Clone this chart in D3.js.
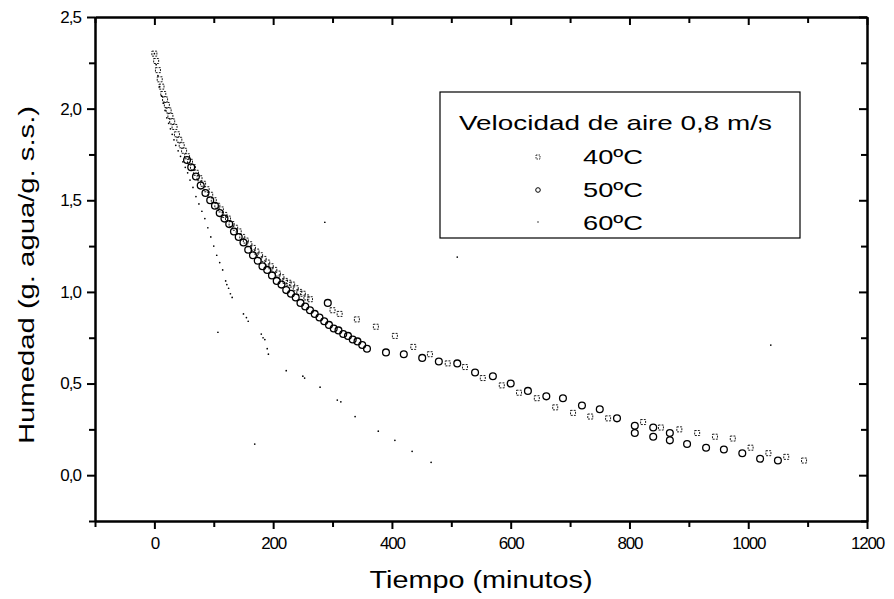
<!DOCTYPE html>
<html><head><meta charset="utf-8">
<script src="https://cdn.jsdelivr.net/npm/d3@7"></script>
<style>body{margin:0;background:#fff}svg{display:block}text{font-family:"Liberation Sans",Arial,sans-serif;fill:#000}</style>
</head><body><svg id="c" width="894" height="599"></svg>
<script>
// ---- data ----
const xTicks = [0,200,400,600,800,1000,1200];
const yTicks = [0.0,0.5,1.0,1.5,2.0,2.5];
const legendTitle = "Velocidad de aire 0,8 m/s";
const seriesNames = ["40ºC","50ºC","60ºC"];

const t40 = [0,3,6,9,12,15,18,21,24,27,30,34,38,42,46,50,55,60,65,70,76,82,88,94,100,106,112,118,124,130,136,142,148,154,160,166,172,178,184,190,196,202,208,214,220,226,232,238,244,250,256,262,300,312,341,373,405,436,464,494,523,553,585,614,644,675,705,734,764,823,853,884,914,944,974,1004,1034,1064,1094];
const v40 = [2.30,2.26,2.21,2.16,2.12,2.08,2.05,2.02,1.99,1.96,1.93,1.90,1.86,1.83,1.80,1.77,1.74,1.71,1.68,1.65,1.62,1.59,1.56,1.53,1.50,1.47,1.45,1.42,1.40,1.37,1.35,1.33,1.30,1.28,1.26,1.24,1.22,1.20,1.18,1.16,1.14,1.12,1.10,1.08,1.06,1.05,1.04,1.02,1.00,0.99,0.97,0.96,0.90,0.88,0.85,0.81,0.76,0.70,0.66,0.61,0.59,0.53,0.49,0.45,0.42,0.37,0.34,0.32,0.31,0.29,0.26,0.25,0.23,0.21,0.20,0.15,0.12,0.10,0.08];

const t50 = [55,62,70,78,86,94,102,110,118,126,134,142,150,158,166,174,182,190,198,206,214,222,230,238,246,254,262,270,278,286,294,302,310,318,326,334,342,350,358,292,390,420,451,479,510,540,570,600,629,660,688,720,750,779,809,809,840,840,868,868,897,929,959,990,1020,1050];
const v50 = [1.72,1.68,1.63,1.58,1.54,1.50,1.47,1.43,1.40,1.37,1.33,1.30,1.27,1.23,1.20,1.17,1.14,1.12,1.09,1.06,1.04,1.01,0.99,0.97,0.94,0.92,0.90,0.88,0.86,0.84,0.82,0.80,0.79,0.77,0.76,0.74,0.73,0.71,0.69,0.94,0.67,0.66,0.64,0.62,0.61,0.56,0.54,0.50,0.46,0.43,0.42,0.38,0.36,0.31,0.27,0.23,0.26,0.21,0.23,0.19,0.17,0.15,0.14,0.12,0.09,0.08];

const t60 = [0,3,6,9,12,15,18,21,24,27,30,33,36,40,44,48,52,56,60,65,70,75,80,85,90,95,100,105,110,115,120,122,125,128,131,150,155,158,180,183,186,190,192,222,250,253,279,308,314,338,377,405,434,466,107,169,287,510,1038];
const v60 = [2.30,2.24,2.18,2.12,2.07,2.03,1.99,1.95,1.92,1.89,1.86,1.83,1.80,1.77,1.74,1.71,1.68,1.65,1.61,1.57,1.52,1.48,1.44,1.40,1.35,1.30,1.25,1.20,1.16,1.12,1.06,1.04,1.02,0.99,0.97,0.88,0.86,0.84,0.77,0.75,0.74,0.69,0.66,0.57,0.54,0.53,0.48,0.41,0.40,0.32,0.24,0.19,0.13,0.07,0.78,0.17,1.38,1.19,0.71];

// ---- chart ----
const svg = d3.select("#c");
const L=95,R=867,T=17,B=521;
const x = d3.scaleLinear().domain([-100,1200]).range([L,R]);
const y = d3.scaleLinear().domain([-0.25,2.5]).range([B,T]);
const fmtY = d => d3.format(".1f")(d).replace(".",",");
const fmtX = d3.format("d");

const g = svg.append("g");
const xMinor = d3.range(-100,1201,100).filter(d=>d%200!==0);
const yMinor = d3.range(-0.25,2.51,0.5).map(d=>+d.toFixed(2));

function styleAxis(sel){ sel.select(".domain").attr("stroke","#000").attr("stroke-width",2); sel.selectAll(".tick line").attr("stroke","#000").attr("stroke-width",2); }

// bottom
const bx = g.append("g").attr("transform",`translate(0,${B})`)
  .call(d3.axisBottom(x).tickValues(xTicks).tickSize(8).tickPadding(8).tickFormat(fmtX).tickSizeOuter(0));
bx.selectAll("text").style("font-size","17px").attr("letter-spacing","-1.2px");
styleAxis(bx);
g.append("g").attr("transform",`translate(0,${B})`).call(d3.axisBottom(x).tickValues(xMinor).tickSize(6).tickFormat("").tickSizeOuter(0)).call(styleAxis);
// top (inward)
g.append("g").attr("transform",`translate(0,${T})`).call(d3.axisBottom(x).tickValues(xTicks).tickSize(8).tickFormat("").tickSizeOuter(0)).call(styleAxis);
g.append("g").attr("transform",`translate(0,${T})`).call(d3.axisBottom(x).tickValues(xMinor).tickSize(6).tickFormat("").tickSizeOuter(0)).call(styleAxis);
// left
const ly = g.append("g").attr("transform",`translate(${L},0)`)
  .call(d3.axisLeft(y).tickValues(yTicks).tickSize(8).tickPadding(6).tickFormat(fmtY).tickSizeOuter(0));
ly.selectAll("text").style("font-size","17px").attr("letter-spacing","-1px");
styleAxis(ly);
g.append("g").attr("transform",`translate(${L},0)`).call(d3.axisLeft(y).tickValues(yMinor).tickSize(6).tickFormat("").tickSizeOuter(0)).call(styleAxis);
// right (inward)
g.append("g").attr("transform",`translate(${R},0)`).call(d3.axisLeft(y).tickValues(yTicks).tickSize(8).tickFormat("").tickSizeOuter(0)).call(styleAxis);
g.append("g").attr("transform",`translate(${R},0)`).call(d3.axisLeft(y).tickValues(yMinor).tickSize(6).tickFormat("").tickSizeOuter(0)).call(styleAxis);

// axis titles
svg.append("text").attr("x",481).attr("y",588).attr("text-anchor","middle").style("font-size","23px")
  .attr("textLength",223).attr("lengthAdjust","spacingAndGlyphs").text("Tiempo (minutos)");
svg.append("text").attr("transform",`translate(34,${275}) rotate(-90)`).attr("text-anchor","middle").style("font-size","22px")
  .attr("textLength",338).attr("lengthAdjust","spacingAndGlyphs").text("Humedad (g. agua/g. s.s.)");

// data marks
const d40 = t40.map((t,i)=>[t,v40[i]]);
const d50 = t50.map((t,i)=>[t,v50[i]]);
const d60 = t60.map((t,i)=>[t,v60[i]]);
const plot = svg.append("g");
plot.selectAll(".s40").data(d40).join("rect").attr("class","s40")
  .attr("x",d=>x(d[0])-2.5).attr("y",d=>y(d[1])-2.5).attr("width",5).attr("height",5)
  .attr("fill","none").attr("stroke","#000").attr("stroke-width",0.9).attr("stroke-dasharray","2,1.2");
plot.selectAll(".s50").data(d50).join("circle").attr("class","s50")
  .attr("cx",d=>x(d[0])).attr("cy",d=>y(d[1])).attr("r",3.4)
  .attr("fill","none").attr("stroke","#000").attr("stroke-width",1.3);
plot.selectAll(".s60").data(d60).join("circle").attr("class","s60")
  .attr("cx",d=>x(d[0])).attr("cy",d=>y(d[1])).attr("r",0.85).attr("fill","#000");

// legend
const lg = svg.append("g");
lg.append("rect").attr("x",440).attr("y",92).attr("width",360).attr("height",146).attr("fill","#fff").attr("stroke","#000").attr("stroke-width",1.2);
lg.append("text").attr("x",459).attr("y",130).style("font-size","21px")
  .attr("textLength",313).attr("lengthAdjust","spacingAndGlyphs").text(legendTitle);
const ly0 = [164,197,230];
seriesNames.forEach((n,i)=>{
  lg.append("text").attr("x",583).attr("y",ly0[i]).style("font-size","21px")
    .attr("textLength",60).attr("lengthAdjust","spacingAndGlyphs").text(n);
});
lg.append("rect").attr("x",536).attr("y",155).attr("width",4).attr("height",4).attr("fill","none").attr("stroke","#000").attr("stroke-width",0.8).attr("stroke-dasharray","1.5,1");
lg.append("circle").attr("cx",538).attr("cy",190).attr("r",2.3).attr("fill","none").attr("stroke","#000").attr("stroke-width",1);
lg.append("circle").attr("cx",538).attr("cy",222).attr("r",0.7).attr("fill","#000");
</script></body></html>
